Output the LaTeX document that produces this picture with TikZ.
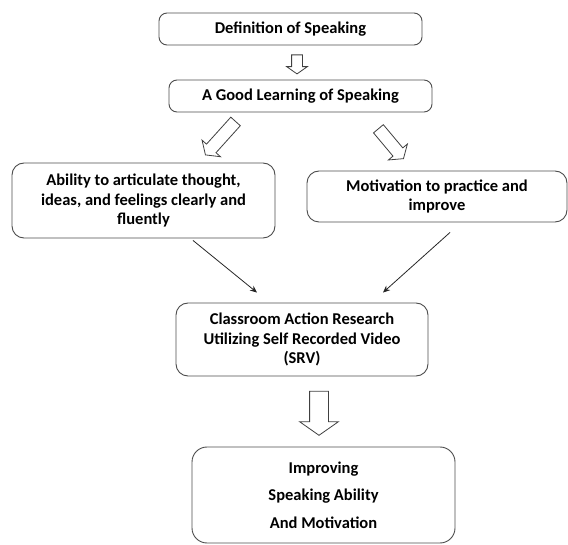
\documentclass[tikz,border=0pt]{standalone}
\usepackage{fontspec}
\setmainfont{Carlito}
\usepackage{tikz}
\usetikzlibrary{arrows.meta,shapes.arrows}

\begin{document}
\begin{tikzpicture}[x=1pt,y=-1pt,
    box/.style={draw=black!70, line width=0.9pt, rounded corners=8pt,
      align=center, font=\fontsize{16.5}{19.5}\selectfont\bfseries, inner sep=0pt},
    hollow/.style={single arrow, draw=black!75, line width=0.8pt, inner xsep=0pt,
      text height=0pt, text depth=0pt,
      single arrow tip angle=110, single arrow head indent=0pt},
    link/.style={-{Stealth[length=7pt,width=6pt]}, line width=0.8pt, black!85}]
  \useasboundingbox (0,0) rectangle (568,545);
  % boxes
  \node[box, minimum width=263, minimum height=32] (def) at (290.5,29) {Definition of Speaking};
  \node[box, minimum width=263, minimum height=32] (good) at (300.5,96) {A Good Learning of Speaking};
  \node[box, rounded corners=12pt, minimum width=263, minimum height=75] (ability) at (143.5,200.5)
    {Ability to articulate thought,\\ ideas, and feelings clearly and\\ fluently};
  \node[box, rounded corners=12pt, minimum width=260, minimum height=51] (motiv) at (437,196.5)
    {Motivation to practice and\\ improve};
  \node[box, rounded corners=12pt, minimum width=252, minimum height=73] (srv) at (302,339.5)
    {Classroom Action Research\\ Utilizing Self Recorded Video\\ (SRV)};
  \node[box, rounded corners=15pt, minimum width=263, minimum height=96,
    font=\fontsize{16.5}{27.5}\selectfont\bfseries] (result) at (323.5,495)
    {Improving\\ Speaking Ability\\ And Motivation};
  % hollow arrows
  \node[hollow, minimum height=19, inner ysep=5pt, single arrow head extend=5pt,
    rotate=-90] (h1) at (297,62.5) {};
  \node[hollow, minimum height=45, inner ysep=6pt, single arrow head extend=6pt,
    rotate=228] (h2) at (222,136.5) {};
  \node[hollow, minimum height=39, inner ysep=6pt, single arrow head extend=6pt,
    rotate=-50] (h3) at (389.5,142) {};
  \node[hollow, minimum height=44, inner ysep=9pt, single arrow head extend=10pt,
    rotate=-90] (h4) at (319,410) {};
  % line arrows
  \draw[link] ([xshift=49.5pt,yshift=-2pt]ability.south) -- ([xshift=-45pt,yshift=10pt]srv.north);
  \draw[link] ([xshift=13pt,yshift=-10pt]motiv.south) -- ([xshift=81pt,yshift=10pt]srv.north);
\end{tikzpicture}
\end{document}
